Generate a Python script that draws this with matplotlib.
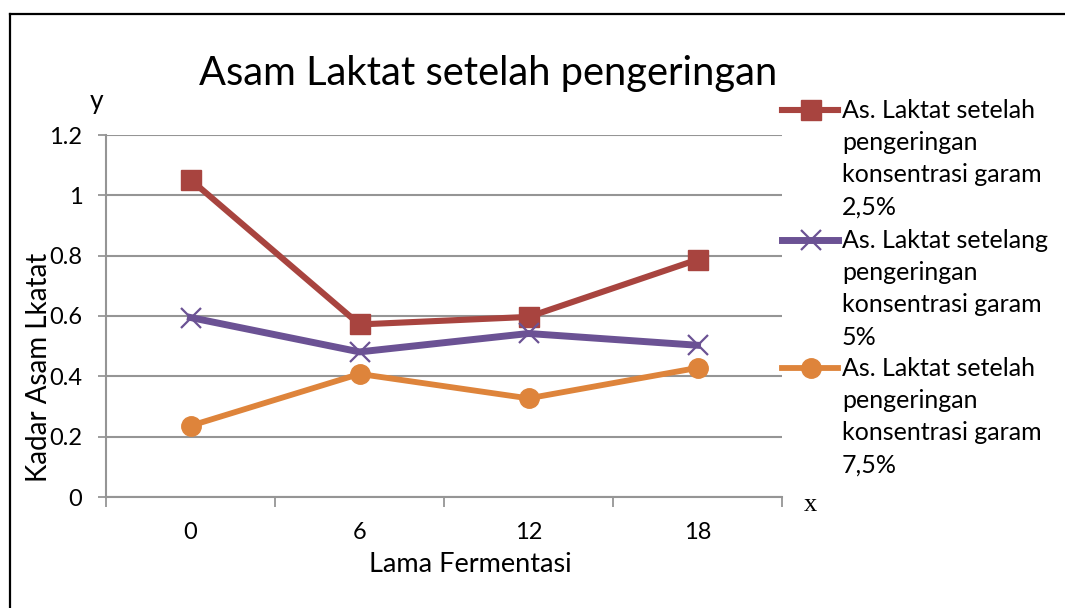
import matplotlib.pyplot as plt
from matplotlib.lines import Line2D

# data
lama = ["0", "6", "12", "18"]
garam_25 = [1.052, 0.572, 0.597, 0.787]
garam_5 = [0.595, 0.481, 0.542, 0.503]
garam_75 = [0.236, 0.408, 0.327, 0.428]
labels = [
    "As. Laktat setelah\npengeringan\nkonsentrasi garam\n2,5%",
    "As. Laktat setelang\npengeringan\nkonsentrasi garam\n5%",
    "As. Laktat setelah\npengeringan\nkonsentrasi garam\n7,5%",
]
y_ticks = [0, 0.2, 0.4, 0.6, 0.8, 1, 1.2]
y_tick_labels = ["0", "0.2", "0.4", "0.6", "0.8", "1", "1.2"]

plt.rcParams["font.family"] = ["Lato", "DejaVu Sans"]

W, H = 1065, 608
fig = plt.figure(figsize=(W / 100, H / 100), dpi=100)
ax = fig.add_axes([106 / W, 1 - 497 / H, (782 - 106) / W, (497 - 135) / H])

styles = [
    dict(color="#A8443F", lw=4.4, marker="s", ms=14),
    dict(color="#6B5294", lw=5.0, marker="x", ms=15, mew=1.6),
    dict(color="#DE843B", lw=4.2, marker="o", ms=14),
]
x = range(len(lama))
for vals, st in zip([garam_25, garam_5, garam_75], styles):
    ax.plot(x, vals, **st)

ax.set_xlim(-0.5, 3.5)
ax.set_ylim(0, 1.2)
ax.set_yticks(y_ticks)
ax.set_yticklabels(y_tick_labels)
ax.set_xticks(list(x))
ax.set_xticklabels(lama)
ax.set_xticks([-0.5, 0.5, 1.5, 2.5, 3.5], minor=True)
ax.tick_params(axis="x", which="major", length=0, pad=18, labelsize=17)
ax.tick_params(axis="x", which="minor", length=7, color="#8c8c8c", width=1.2)
ax.tick_params(axis="y", length=6, color="#8c8c8c", width=1.2, pad=11, labelsize=17)
ax.yaxis.grid(True, color="#959595", lw=1.5)
ax.set_axisbelow(True)
for s in ["top", "right"]:
    ax.spines[s].set_visible(False)
for s in ["left", "bottom"]:
    ax.spines[s].set_color("#959595")
    ax.spines[s].set_linewidth(1.5)

# legend drawn by hand so the handle sits on the first text line
leg_y = [110, 240, 368]
for lab, st, y0 in zip(labels, styles, leg_y):
    fy = 1 - y0 / H
    fig.add_artist(Line2D([782 / W, 838 / W], [fy, fy], transform=fig.transFigure,
                          color=st["color"], lw=st["lw"]))
    fig.add_artist(Line2D([811 / W], [fy], transform=fig.transFigure, ls="none",
                          color=st["color"], marker=st["marker"], ms=st["ms"],
                          mew=st.get("mew", 1)))
    for i, line in enumerate(lab.split("\n")):
        fig.text(842 / W, 1 - (y0 + 32.5 * i) / H, line, fontsize=18,
                 ha="left", va="center")

fig.text(488 / W, 1 - 73 / H, "Asam Laktat setelah pengeringan", fontsize=28.7,
         ha="center", va="center")
fig.text(97 / W, 1 - 102 / H, "y", fontsize=19, ha="center", va="center")
fig.text(810 / W, 1 - 505 / H, "x", fontsize=19, ha="center", va="center",
         family="Liberation Serif")
fig.text(39 / W, 1 - 367 / H, "Kadar Asam Lkatat", fontsize=20, rotation=90,
         ha="center", va="center")
fig.text(470 / W, 1 - 565 / H, "Lama Fermentasi", fontsize=19.5, ha="center", va="center")

# outer chart border (left and top only visible)
fig.add_artist(Line2D([10 / W, 10 / W], [0, 1 - 14 / H], transform=fig.transFigure,
                      color="black", lw=1.6))
fig.add_artist(Line2D([10 / W, 1], [1 - 14 / H, 1 - 14 / H], transform=fig.transFigure,
                      color="black", lw=1.6))

plt.savefig("out.png", dpi=100)
